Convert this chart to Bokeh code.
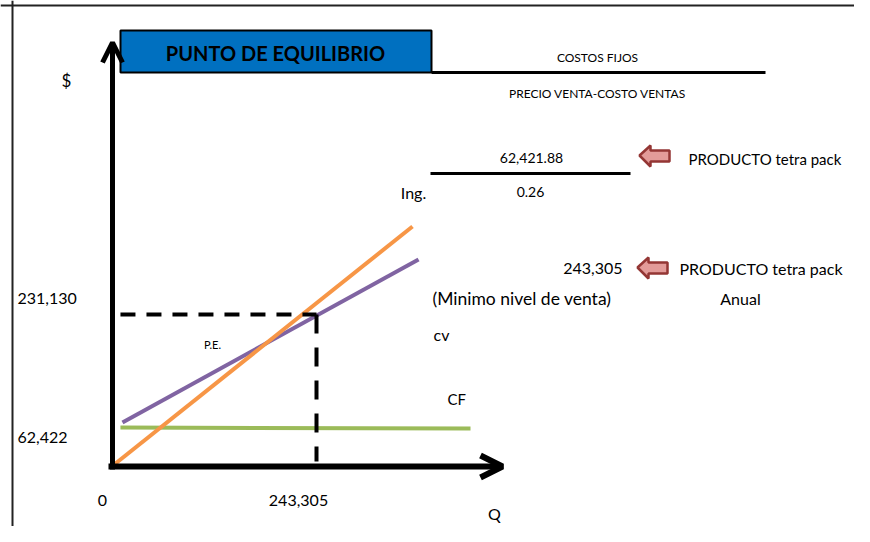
from bokeh.plotting import figure
from bokeh.models import Range1d, Span, Arrow, OpenHead
from bokeh.core.properties import value
from bokeh.embed import file_html
from bokeh.resources import INLINE

# ---------------- data ----------------
PE_Q = 243305          # punto de equilibrio (cantidad)
PE_V = 231130          # ingreso en el punto de equilibrio
CF_V = 62422           # costos fijos
frac_num = "62,421.88"
frac_den = "0.26"
y_tick_labels = ["231,130", "62,422"]
x_tick_labels = ["0", "243,305"]
# lines (Q, $)
ing_q = [-2400, 357800]
ing_v = [-1500, 364900]
cv_q = [11900, 365000]
cv_v = [66900, 314800]
cf_q = [9500, 427000]
cf_v = [59300, 57800]
pe_h_q = [9500, PE_Q]
pe_h_v = [PE_V, PE_V]
pe_v_q = [PE_Q, PE_Q]
pe_v_v = [PE_V, 7600]

# ---------------- layout helpers (pixel -> data) ----------------
X0, Y0 = 112, 466
QPX = PE_Q / 204.0
VPY = PE_V / 152.0


def dq(X):
    return (X - X0) * QPX


def dv(Y):
    return (Y0 - Y) * VPY


W, H = 854, 526
p = figure(width=W, height=H, x_range=Range1d(dq(0), dq(W)),
           y_range=Range1d(dv(H), dv(0)),
           toolbar_location=None, output_backend="svg",
           x_axis_type=None, y_axis_type=None, min_border=0,
           outline_line_color=None)
p.grid.visible = False
p.background_fill_color = "white"
p.border_fill_color = "white"

FONT = value("Lato")


def txt(X, Y, s, size, align="center", bold=False):
    p.text(x=[dq(X)], y=[dv(Y)], text=[s], text_font=FONT,
           text_font_size=f"{size}px", text_align=align,
           text_baseline="middle", text_color="black",
           text_font_style="bold" if bold else "normal")


# outer frame lines
p.add_layout(Span(location=dv(5), dimension="width", line_color="#222222", line_width=2))
p.add_layout(Span(location=dq(12), dimension="height", line_color="#222222", line_width=2))

# title box
p.quad(left=[dq(120)], right=[dq(431)], top=[dv(30)], bottom=[dv(72)],
       fill_color="#0070C0", line_color="black", line_width=2)
txt(275, 52, "PUNTO DE EQUILIBRIO", 20, bold=True)

# fraction 1
p.line(x=[dq(431), dq(765)], y=[dv(72), dv(72)], line_color="black", line_width=3)
txt(597, 57, "COSTOS FIJOS", 12)
txt(597, 93, "PRECIO VENTA-COSTO VENTAS", 12)

# fraction 2
p.line(x=[dq(430), dq(630)], y=[dv(173), dv(173)], line_color="black", line_width=3)
txt(531, 157, frac_num, 14)
txt(530, 191, frac_den, 14)

# red arrows
arrow_x, arrow_y = [], []
for (tx, ty) in [(639, 155), (637, 267)]:
    pts = [(tx, ty), (tx + 11, ty - 10), (tx + 11, ty - 5), (tx + 30, ty - 5),
           (tx + 30, ty + 6), (tx + 11, ty + 6), (tx + 11, ty + 11)]
    arrow_x.append([dq(a) for a, b in pts])
    arrow_y.append([dv(b) for a, b in pts])
p.patches(xs=arrow_x, ys=arrow_y, fill_color="#E39B99", line_color="#943634", line_width=2.5)

txt(688, 158, "PRODUCTO  tetra pack", 15, align="left")
txt(679, 268, "PRODUCTO  tetra pack", 16, align="left")
txt(740, 298, "Anual", 16)
txt(622, 268, "243,305", 16, align="right")
txt(432, 298, "(Minimo nivel de venta)", 17.5, align="left")

# chart lines
p.line(x=cf_q, y=cf_v, line_color="#9BBB59", line_width=4)
p.line(x=cv_q, y=cv_v, line_color="#8064A2", line_width=4)
p.line(x=ing_q, y=ing_v, line_color="#F79646", line_width=4)
p.line(x=pe_h_q, y=pe_h_v, line_color="black", line_width=4, line_dash="15 11")
p.line(x=pe_v_q, y=pe_v_v, line_color="black", line_width=4, line_dash="19 14")

# axes arrows
p.add_layout(Arrow(x_start=dq(112), y_start=dv(469), x_end=dq(112), y_end=dv(42),
                   line_color="black", line_width=5,
                   end=OpenHead(size=20, line_width=5, line_color="black")))
p.add_layout(Arrow(x_start=dq(108), y_start=dv(466), x_end=dq(502), y_end=dv(466),
                   line_color="black", line_width=6,
                   end=OpenHead(size=22, line_width=6, line_color="black")))

# labels
txt(66, 80, "$", 17)
txt(413, 192, "Ing.", 16)
txt(433, 334, "cv", 16, align="left")
txt(447, 398, "CF", 15, align="left")
txt(212, 344, "P.E.", 11)
txt(17, 298, y_tick_labels[0], 16, align="left")
txt(17, 437, y_tick_labels[1], 16, align="left")
txt(102, 500, x_tick_labels[0], 16)
txt(298, 500, x_tick_labels[1], 16)
txt(494, 513, "Q", 16)

open("out.html", "w").write(file_html(p, INLINE))
